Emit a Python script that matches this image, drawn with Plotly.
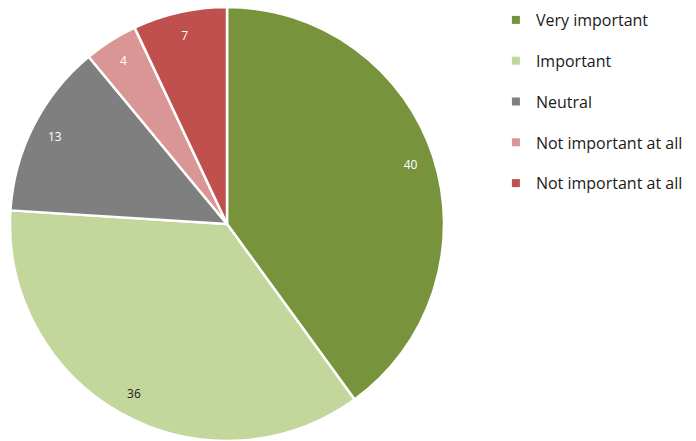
import plotly.graph_objects as go

categories = ["Very important", "Important", "Neutral", "Not important at all", "Not important at all"]
values = [40, 36, 13, 4, 7]
colors = ["#77933C", "#C3D69B", "#7F7F7F", "#D99694", "#C0504D"]
label_colors = ["white", "#1a1a1a", "white", "white", "white"]

FONT = "Open Sans"
dom = dict(x=[10/696, 444/696], y=[0, 1 - 7/441])

fig = go.Figure()
fig.add_trace(go.Pie(
    labels=[f"{c} {i}" for i, c in enumerate(categories)], values=values, sort=False,
    direction="clockwise", rotation=0,
    marker=dict(colors=colors, line=dict(color="white", width=2.5)),
    textinfo="none", showlegend=False, domain=dom, hoverinfo="label+value",
))
# text ring overlay (labels near outer edge)
fig.add_trace(go.Pie(
    labels=[f"{c} {i}" for i, c in enumerate(categories)], values=values, sort=False,
    direction="clockwise", rotation=0, hole=0.78,
    marker=dict(colors=["rgba(0,0,0,0)"] * len(values), line=dict(width=0)),
    textinfo="value", textposition="inside", insidetextorientation="horizontal",
    textfont=dict(family=FONT, size=12, color=label_colors),
    showlegend=False, domain=dom, hoverinfo="skip",
))
for i, (c, col) in enumerate(zip(categories, colors)):
    fig.add_trace(go.Scatter(
        x=[None], y=[None], mode="markers", name=c, legendgroup=f"g{i}",
        marker=dict(symbol="square", size=8, color=col),
    ))

fig.update_layout(
    width=696, height=441, margin=dict(l=0, r=0, t=0, b=0),
    paper_bgcolor="white", plot_bgcolor="white",
    font=dict(family=FONT, size=16, color="#1a1a1a"),
    xaxis=dict(visible=False), yaxis=dict(visible=False),
    legend=dict(x=0.7125, y=1 - 3/441, xanchor="left", yanchor="top",
                tracegroupgap=17, itemwidth=30, font=dict(size=16),
                bgcolor="rgba(0,0,0,0)"),
)
fig.write_html("out.html", config={"displayModeBar": False},
               post_script="document.body.style.margin='0';document.body.style.overflow='hidden';")
